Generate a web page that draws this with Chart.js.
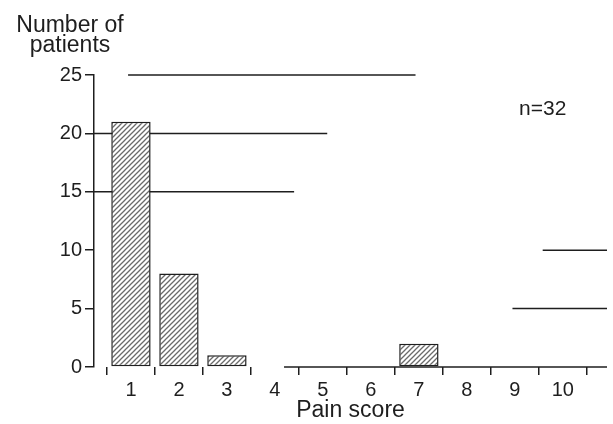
<!DOCTYPE html>
<html><head><meta charset="utf-8">
<script src="https://cdn.jsdelivr.net/npm/chart.js@4/dist/chart.umd.min.js"></script>
<style>html,body{margin:0;padding:0;background:#fff}#wrap{width:613px;height:424px;position:relative}</style>
</head><body><div id="wrap"><canvas id="c"></canvas></div>
<script>
// ---- data ----
const painScores = [1, 2, 3, 4, 5, 6, 7, 8, 9, 10];
const patientCounts = [21, 8, 1, 0, 0, 0, 2, 0, 0, 0];
const yTickValues = [0, 5, 10, 15, 20, 25];
const xTitleText = 'Pain score';
const yTitleLines = ['Number of', 'patients'];
const sampleNote = 'n=32';

// ---- partial grid fragments seen in the reference (data units) ----
const gridFragments = [
  { y: 25, from: 0.94, to: 6.93 },
  { y: 20, from: 0.23, to: 5.09 },
  { y: 15, from: 0.23, to: 4.40 },
  { y: 10, from: 9.58, to: 10.92 },
  { y: 5,  from: 8.95, to: 10.92 }
];
const baselineFrom = 4.19;
const notePos = { x: 9.58, y: 22.1 };

const INK = '#1e1e1e';
Chart.defaults.font.family = '"Liberation Sans", Arial, sans-serif';
Chart.defaults.color = INK;

function makeHatch() {
  const t = document.createElement('canvas');
  t.width = 5; t.height = 5;
  const g = t.getContext('2d');
  g.fillStyle = '#ffffff'; g.fillRect(0, 0, 5, 5);
  g.strokeStyle = '#6a6a6a'; g.lineWidth = 1.3;
  g.beginPath();
  g.moveTo(-1, 6); g.lineTo(6, -1);
  g.moveTo(-1, 1); g.lineTo(1, -1);
  g.moveTo(4, 6); g.lineTo(6, 4);
  g.stroke();
  return document.createElement('canvas').getContext('2d').createPattern(t, 'repeat');
}

const decor = {
  id: 'decor',
  beforeDatasetsDraw(chart) {
    const { ctx, scales: { x, y } } = chart;
    ctx.save();
    ctx.strokeStyle = INK; ctx.lineWidth = 1.5;
    gridFragments.forEach(f => {
      const py = y.getPixelForValue(f.y);
      ctx.beginPath();
      ctx.moveTo(x.getPixelForValue(f.from), py);
      ctx.lineTo(x.getPixelForValue(f.to), py);
      ctx.stroke();
    });
    const by = y.getPixelForValue(0);
    ctx.beginPath();
    ctx.moveTo(x.getPixelForValue(baselineFrom), by);
    ctx.lineTo(x.getPixelForValue(x.max), by);
    ctx.stroke();
    ctx.restore();
  },
  afterDraw(chart) {
    const { ctx, scales: { x, y } } = chart;
    ctx.save();
    ctx.fillStyle = INK;
    ctx.font = '21px "Liberation Sans", Arial, sans-serif';
    ctx.textAlign = 'center'; ctx.textBaseline = 'middle';
    ctx.fillText(sampleNote, x.getPixelForValue(notePos.x), y.getPixelForValue(notePos.y));
    ctx.font = '23px "Liberation Sans", Arial, sans-serif';
    ctx.textBaseline = 'alphabetic';
    ctx.fillText(yTitleLines[0], 70, 32);
    ctx.fillText(yTitleLines[1], 70, 52);
    ctx.restore();
  }
};

const xTickValues = [];
painScores.forEach(v => { xTickValues.push(v - 0.5); xTickValues.push(v); });
xTickValues.push(painScores[painScores.length - 1] + 0.5);

new Chart(document.getElementById('c'), {
  type: 'bar',
  data: {
    datasets: [{
      data: painScores.map((s, i) => ({ x: s, y: patientCounts[i] })),
      backgroundColor: makeHatch(),
      borderColor: INK,
      borderWidth: 1.5,
      borderSkipped: false,
      categoryPercentage: 1,
      barPercentage: 1.64
    }]
  },
  options: {
    responsive: true,
    maintainAspectRatio: false,
    animation: false,
    layout: { padding: { top: 75, right: 6, left: 0, bottom: 0 } },
    plugins: { legend: { display: false }, tooltip: { enabled: false } },
    scales: {
      x: {
        type: 'linear',
        offset: false,
        min: 0.23, max: 10.92,
        afterBuildTicks(scale) { scale.ticks = xTickValues.map(v => ({ value: v })); },
        afterFit(scale) { scale.height = 57; scale.paddingLeft = 0; scale.paddingRight = 0; },
        border: { display: false },
        grid: {
          drawOnChartArea: false,
          offset: false,
          tickLength: 8,
          lineWidth: 1.5,
          color: c => (c.tick && Number.isInteger(c.tick.value)) ? 'rgba(0,0,0,0)' : INK
        },
        ticks: {
          autoSkip: false, maxRotation: 0, padding: 3,
          font: { size: 20 }, color: INK,
          callback: v => Number.isInteger(v) ? String(v) : ''
        },
        title: { display: true, text: xTitleText, font: { size: 23, lineHeight: 1.0 }, color: INK, padding: { top: 0, bottom: 2 } }
      },
      y: {
        min: 0, max: 25,
        afterBuildTicks(scale) { scale.ticks = yTickValues.map(v => ({ value: v })); },
        afterFit(scale) { scale.width = 94; },
        border: { display: true, color: INK, width: 1.5 },
        grid: { drawOnChartArea: false, tickLength: 9, lineWidth: 1.5, color: INK },
        ticks: { padding: 3, font: { size: 20 }, color: INK }
      }
    }
  },
  plugins: [decor]
});
</script>
</body></html>
